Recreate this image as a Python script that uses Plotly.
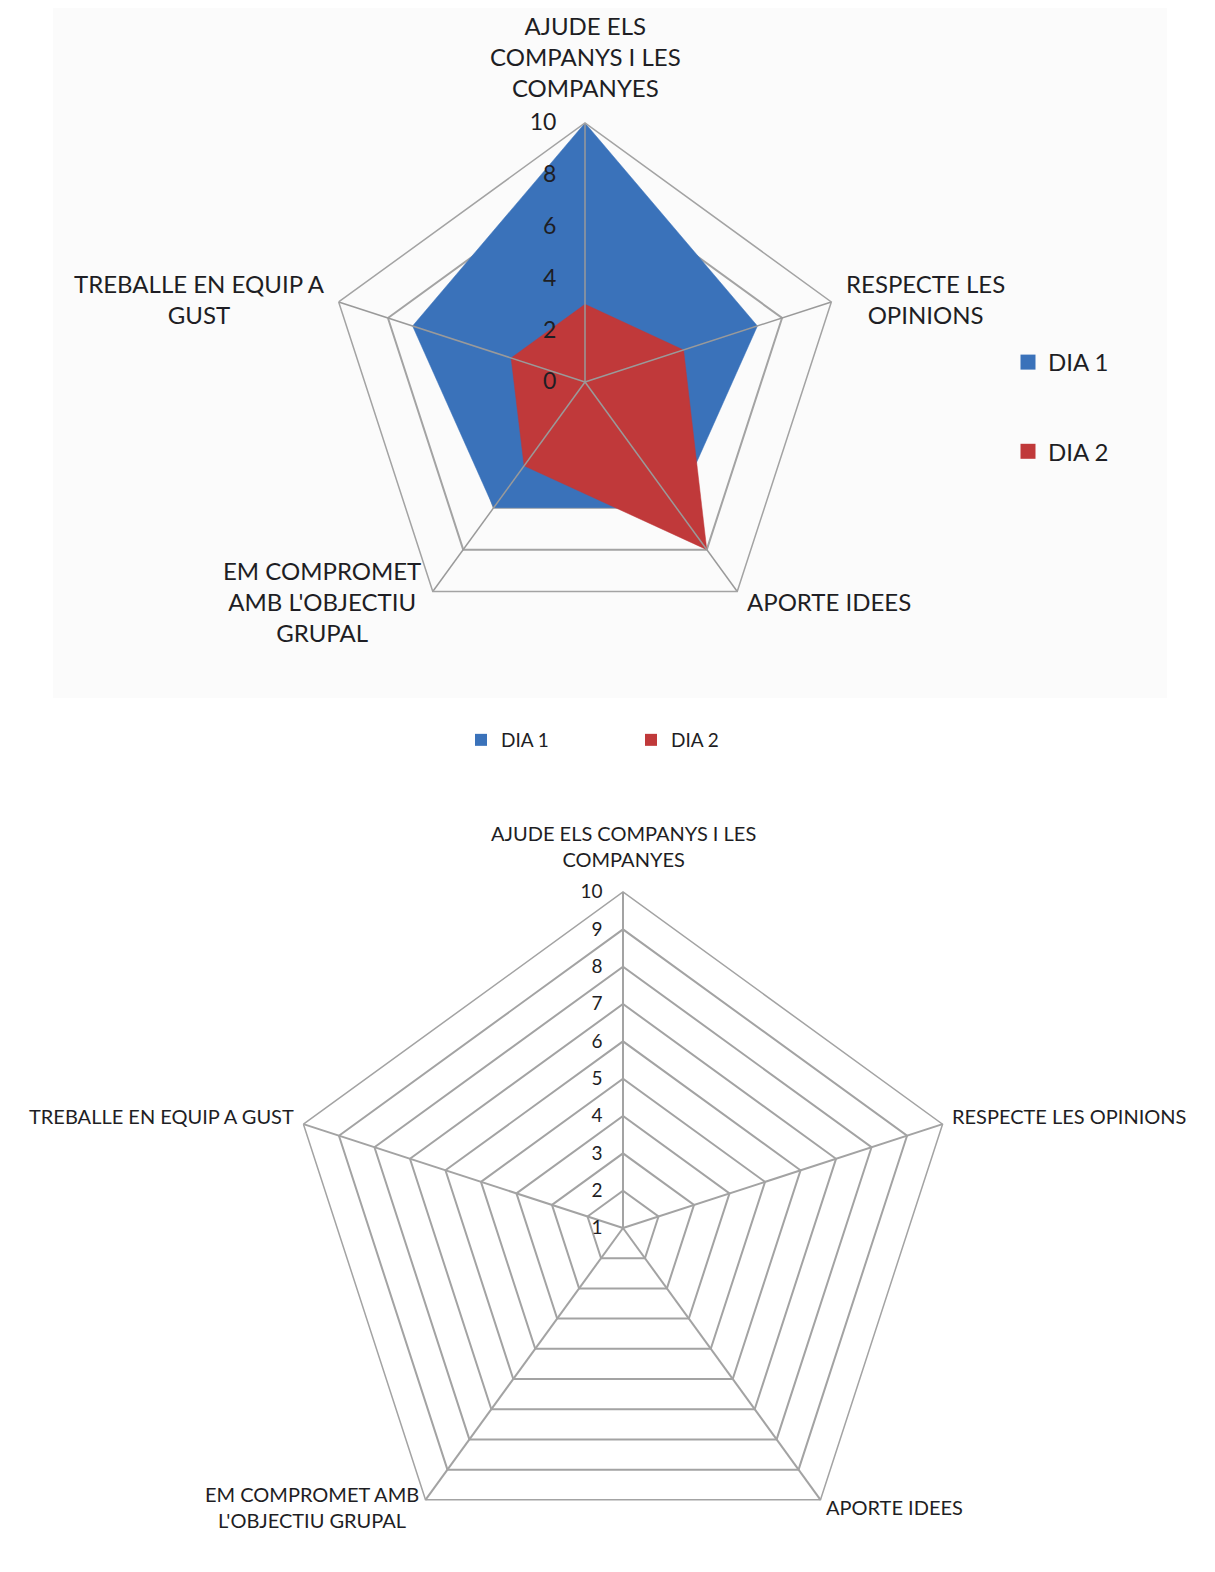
import math
import plotly.graph_objects as go

# ---- data ----
categories = [
    "AJUDE ELS COMPANYS I LES COMPANYES",
    "RESPECTE LES OPINIONS",
    "APORTE IDEES",
    "EM COMPROMET AMB L'OBJECTIU GRUPAL",
    "TREBALLE EN EQUIP A GUST",
]
labels_top = [
    "AJUDE ELS<br>COMPANYS I LES<br>COMPANYES",
    "RESPECTE LES<br>OPINIONS",
    "APORTE IDEES",
    "EM COMPROMET<br>AMB L'OBJECTIU<br>GRUPAL",
    "TREBALLE EN EQUIP A<br>GUST",
]
labels_bottom = [
    "AJUDE ELS COMPANYS I LES<br>COMPANYES",
    "RESPECTE LES OPINIONS",
    "APORTE IDEES",
    "EM COMPROMET AMB<br>L'OBJECTIU GRUPAL",
    "TREBALLE EN EQUIP A GUST",
]
series_names = ["DIA 1", "DIA 2"]
dia1_values = [10, 7, 6, 6, 7]
dia2_values = [3, 4, 8, 4, 3]
dia1_bottom = [None, None, None, None, None]
dia2_bottom = [None, None, None, None, None]
top_ticks = [0, 2, 4, 6, 8, 10]
bottom_ticks = [1, 2, 3, 4, 5, 6, 7, 8, 9, 10]

# ---- style ----
BLUE = "#3A72BA"
RED = "#C0393A"
GRID = "#A3A3A3"
TEXT = "#1E1E24"
FONT = "Lato, 'Open Sans', sans-serif"

OFF = 8                      # page body margin
W, H = 1215 - 2 * OFF, 1572 - 2 * OFF

def px(x):
    return (x - OFF) / W

def py(y):
    return 1 - (y - OFF) / H

# geometry (page pixels)
top_cx, top_cy, top_r = 585, 382, 259
bot_cx, bot_r = 623, 336
bot_cy = OFF + H - bot_r  # center in page px

fig = go.Figure()

# faint panel behind top chart
fig.add_shape(type="rect", xref="paper", yref="paper",
              x0=px(53), x1=px(1167), y0=py(698), y1=1.0,
              fillcolor="#FBFBFB", line=dict(width=0), layer="below")

def closed(v):
    return list(v) + [v[0]]

# top chart fills
for name, vals, col in [(series_names[0], dia1_values, BLUE), (series_names[1], dia2_values, RED)]:
    fig.add_trace(go.Scatterpolar(
        r=closed(vals), theta=closed(categories), subplot="polar",
        mode="lines", fill="toself", fillcolor=col,
        line=dict(color=col, width=0.5), name=name, showlegend=False,
    ))

# spokes above fills (top chart)
for cat in categories:
    fig.add_trace(go.Scatterpolar(
        r=[top_ticks[0], top_ticks[-1]], theta=[cat, cat], subplot="polar",
        mode="lines", line=dict(color="#9A9A9A", width=1.5),
        showlegend=False, hoverinfo="skip",
    ))

# legend entries for top chart
for i, (name, col) in enumerate([(series_names[0], BLUE), (series_names[1], RED)]):
    fig.add_trace(go.Scatterpolar(
        r=[None], theta=[None], subplot="polar", mode="markers",
        marker=dict(symbol="square", size=15, color=col),
        name=name, legend="legend", legendgroup=f"t{i}",
    ))

# bottom chart series (no visible values)
for name, vals, col in [(series_names[0], dia1_bottom, BLUE), (series_names[1], dia2_bottom, RED)]:
    fig.add_trace(go.Scatterpolar(
        r=vals, theta=categories, subplot="polar2", mode="markers",
        marker=dict(symbol="square", size=12, color=col),
        name=name, legend="legend2",
    ))

# ---- category labels as annotations ----
annotations = []
top_label_pos = [(585, 57), (925, 299), (829, 602), (322, 602), (199, 299)]
for txt, (x, y) in zip(labels_top, top_label_pos):
    annotations.append(dict(text=txt, x=px(x), y=py(y), xref="paper", yref="paper",
                            xanchor="center", yanchor="middle", align="center",
                            showarrow=False, font=dict(size=24, color=TEXT, family=FONT)))
bot_label_off = [(0, -46), (126, -8), (74, 7), (-114, 7), (-142, -8)]
for k, (txt, (dx, dy)) in enumerate(zip(labels_bottom, bot_label_off)):
    ang = math.radians(72 * k)
    vx = bot_cx + bot_r * math.sin(ang)
    vy = bot_cy - bot_r * math.cos(ang)
    annotations.append(dict(text=txt, x=px(vx + dx), y=py(vy + dy), xref="paper", yref="paper",
                            xanchor="center", yanchor="middle", align="center",
                            showarrow=False, font=dict(size=20, color=TEXT, family=FONT)))

fig.update_layout(
    width=W, height=H,
    margin=dict(l=0, r=0, t=0, b=0),
    paper_bgcolor="white",
    plot_bgcolor="white",
    font=dict(family=FONT, color=TEXT),
    annotations=annotations,
    polar=dict(
        domain=dict(x=[px(top_cx - top_r), px(top_cx + top_r)],
                    y=[py(top_cy + top_r), py(top_cy - top_r)]),
        gridshape="linear",
        bgcolor="rgba(0,0,0,0)",
        angularaxis=dict(rotation=90, direction="clockwise", type="category",
                         categoryorder="array", categoryarray=categories,
                         showgrid=False, showline=True, linecolor=GRID, linewidth=1.5,
                         ticks="", showticklabels=False),
        radialaxis=dict(range=[top_ticks[0], top_ticks[-1]], tickvals=top_ticks,
                        angle=90, tickangle=90, side="counterclockwise",
                        showline=False, ticks="outside", ticklen=20,
                        tickcolor="rgba(0,0,0,0)",
                        gridcolor=GRID, gridwidth=1.5,
                        tickfont=dict(size=23, color=TEXT)),
    ),
    polar2=dict(
        domain=dict(x=[px(bot_cx - bot_r), px(bot_cx + bot_r)],
                    y=[0, 2 * bot_r / H]),
        gridshape="linear",
        bgcolor="white",
        angularaxis=dict(rotation=90, direction="clockwise", type="category",
                         categoryorder="array", categoryarray=categories,
                         showgrid=True, gridcolor=GRID, gridwidth=1.5,
                         showline=True, linecolor=GRID, linewidth=1.5,
                         ticks="", showticklabels=False),
        radialaxis=dict(range=[bottom_ticks[0], bottom_ticks[-1]], tickvals=bottom_ticks,
                        angle=90, tickangle=90, side="counterclockwise",
                        showline=True, linecolor=GRID, linewidth=1.5,
                        ticks="outside", ticklen=13, tickcolor="rgba(0,0,0,0)",
                        gridcolor=GRID, gridwidth=1.5,
                        tickfont=dict(size=19, color=TEXT)),
    ),
    legend=dict(x=px(1008), y=py(340), xanchor="left", yanchor="top",
                orientation="v", tracegroupgap=55,
                font=dict(size=24, color=TEXT), bgcolor="rgba(0,0,0,0)"),
    legend2=dict(x=px(461), y=py(740), xanchor="left", yanchor="middle",
                 orientation="h", entrywidth=125, entrywidthmode="pixels",
                 font=dict(size=19, color=TEXT), bgcolor="rgba(0,0,0,0)"),
)

fig.write_html("out.html")
